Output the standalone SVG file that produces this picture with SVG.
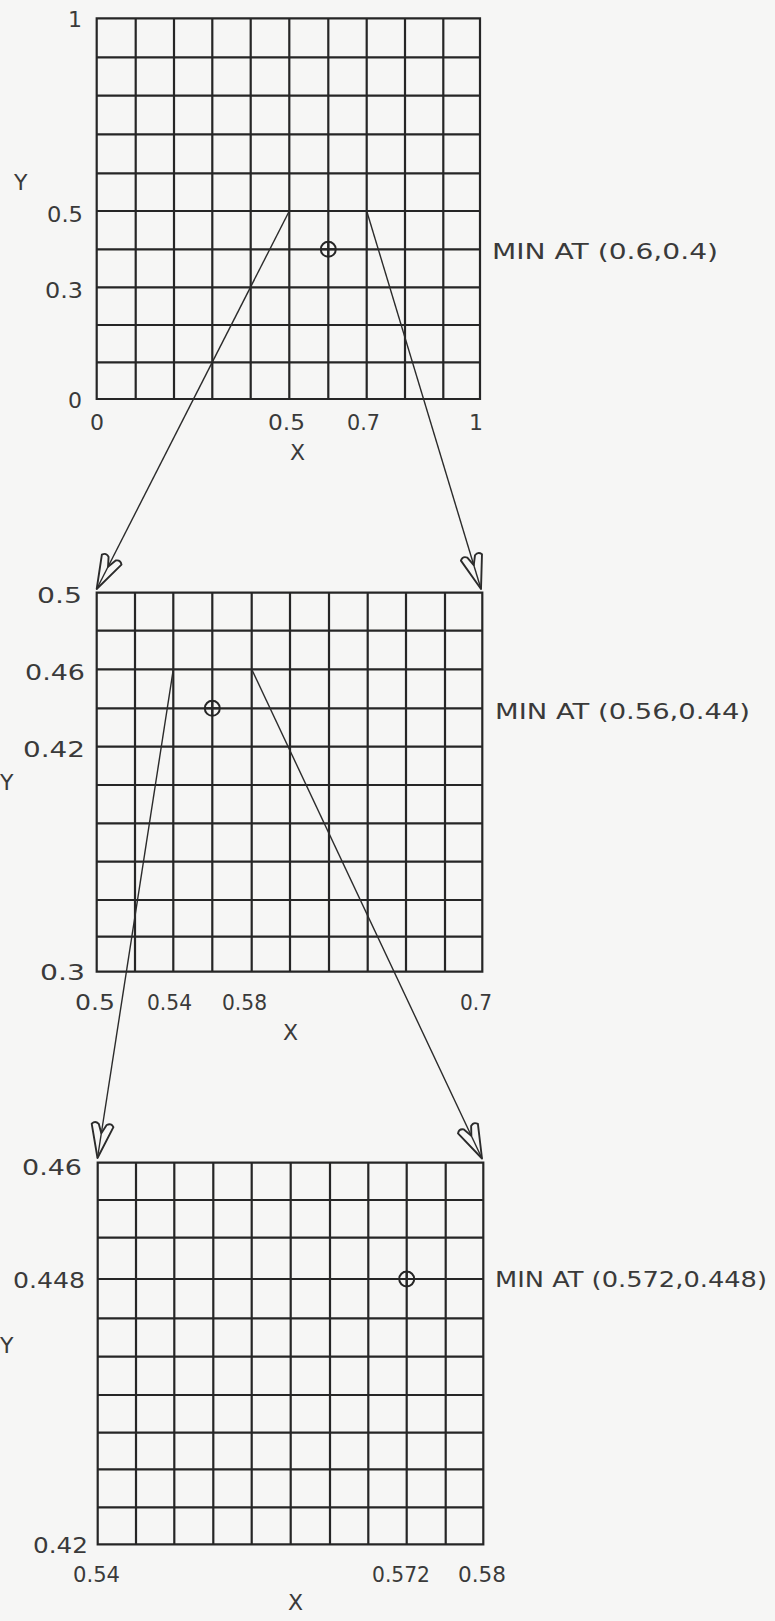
<svg xmlns="http://www.w3.org/2000/svg" width="775" height="1621" viewBox="0 0 775 1621">
<style>
.grid{fill:none;stroke:#262626;stroke-width:2.2;stroke-linecap:square}
.mark{fill:none;stroke:#262626;stroke-width:2}
.conn{fill:none;stroke:#2b2b2b;stroke-width:1.4}
text{font-family:"DejaVu Sans","Liberation Sans",sans-serif;font-size:22px;fill:#3a3a3a}
</style>
<defs>
<marker id="arr" markerUnits="userSpaceOnUse" markerWidth="44" markerHeight="32" viewBox="-40 -16 44 32" refX="0" refY="0" orient="auto" overflow="visible">
<path d="M0,0 L-33,-11 Q-37,-8 -34,-4 L-25,0 L-34,4 Q-37,8 -33,11 Z" fill="none" stroke="#2b2b2b" stroke-width="1.9" stroke-linejoin="round"/>
</marker>
</defs>
<rect width="775" height="1621" fill="#f6f6f5"/>

<g id="grid1">
<path class="grid" d="M96.7,18.3V399M135.7,18.3V399M174,18.3V399M212.3,18.3V399M250.7,18.3V399M289.3,18.3V399M328.3,18.3V399M366.7,18.3V399M405,18.3V399M443.3,18.3V399M480,18.3V399
M96.7,18.3H480M96.7,57.3H480M96.7,95.7H480M96.7,134.3H480M96.7,173.3H480M96.7,211H480M96.7,249.3H480M96.7,287.3H480M96.7,325H480M96.7,362.3H480M96.7,399H480"/>
<circle class="mark" cx="328.3" cy="249.3" r="7.5"/>
<path class="mark" d="M320.8,249.3H335.8M328.3,241.8V256.8"/>
<text x="82" y="27" text-anchor="end">1</text>
<text x="14" y="190">Y</text>
<text x="47" y="222" textLength="36" lengthAdjust="spacingAndGlyphs">0.5</text>
<text x="45" y="298" textLength="38" lengthAdjust="spacingAndGlyphs">0.3</text>
<text x="68" y="408">0</text>
<text x="90" y="430">0</text>
<text x="268" y="430" textLength="37" lengthAdjust="spacingAndGlyphs">0.5</text>
<text x="347" y="430" textLength="33" lengthAdjust="spacingAndGlyphs">0.7</text>
<text x="483" y="430" text-anchor="end">1</text>
<text x="290" y="460">X</text>
<text x="492" y="259" textLength="226" lengthAdjust="spacingAndGlyphs">MIN AT (0.6,0.4)</text>
</g>

<g id="grid2">
<path class="grid" d="M96.7,592.7V971.7M135,592.7V971.7M173.3,592.7V971.7M212.3,592.7V971.7M251.7,592.7V971.7M290,592.7V971.7M329,592.7V971.7M367.7,592.7V971.7M406,592.7V971.7M445,592.7V971.7M482.3,592.7V971.7
M96.7,592.7H482.3M96.7,630.7H482.3M96.7,669.3H482.3M96.7,708.3H482.3M96.7,746.7H482.3M96.7,785H482.3M96.7,823.3H482.3M96.7,861.7H482.3M96.7,900H482.3M96.7,936.7H482.3M96.7,971.7H482.3"/>
<circle class="mark" cx="212.3" cy="708.3" r="7.5"/>
<path class="mark" d="M204.8,708.3H219.8M212.3,700.8V715.8"/>
<text x="37" y="603" textLength="45" lengthAdjust="spacingAndGlyphs">0.5</text>
<text x="25" y="680" textLength="60" lengthAdjust="spacingAndGlyphs">0.46</text>
<text x="23" y="757" textLength="62" lengthAdjust="spacingAndGlyphs">0.42</text>
<text x="0" y="790">Y</text>
<text x="40" y="980" textLength="45" lengthAdjust="spacingAndGlyphs">0.3</text>
<text x="75" y="1010" textLength="40" lengthAdjust="spacingAndGlyphs">0.5</text>
<text x="147" y="1010" textLength="45" lengthAdjust="spacingAndGlyphs">0.54</text>
<text x="222" y="1010" textLength="45" lengthAdjust="spacingAndGlyphs">0.58</text>
<text x="460" y="1010" textLength="32" lengthAdjust="spacingAndGlyphs">0.7</text>
<text x="283" y="1040">X</text>
<text x="495" y="719" textLength="255" lengthAdjust="spacingAndGlyphs">MIN AT (0.56,0.44)</text>
</g>

<g id="grid3">
<path class="grid" d="M97.7,1162.7V1544.3M136,1162.7V1544.3M174.3,1162.7V1544.3M213.3,1162.7V1544.3M251.7,1162.7V1544.3M290.7,1162.7V1544.3M330,1162.7V1544.3M368.3,1162.7V1544.3M406.7,1162.7V1544.3M445.7,1162.7V1544.3M483.3,1162.7V1544.3
M97.7,1162.7H483.3M97.7,1200H483.3M97.7,1237.7H483.3M97.7,1279H483.3M97.7,1318.3H483.3M97.7,1356.7H483.3M97.7,1395H483.3M97.7,1432.7H483.3M97.7,1469.3H483.3M97.7,1507.3H483.3M97.7,1544.3H483.3"/>
<circle class="mark" cx="406.7" cy="1279" r="7.5"/>
<path class="mark" d="M399.2,1279H414.2M406.7,1271.5V1286.5"/>
<text x="22" y="1175" textLength="60" lengthAdjust="spacingAndGlyphs">0.46</text>
<text x="13" y="1288" textLength="72" lengthAdjust="spacingAndGlyphs">0.448</text>
<text x="0" y="1353">Y</text>
<text x="33" y="1553" textLength="55" lengthAdjust="spacingAndGlyphs">0.42</text>
<text x="73" y="1582" textLength="47" lengthAdjust="spacingAndGlyphs">0.54</text>
<text x="372" y="1582" textLength="58" lengthAdjust="spacingAndGlyphs">0.572</text>
<text x="458" y="1582" textLength="48" lengthAdjust="spacingAndGlyphs">0.58</text>
<text x="288" y="1610">X</text>
<text x="495" y="1287" textLength="272" lengthAdjust="spacingAndGlyphs">MIN AT (0.572,0.448)</text>
</g>

<g id="connectors">
<line class="conn" x1="289.3" y1="211" x2="96.7" y2="589" marker-end="url(#arr)"/>
<line class="conn" x1="366.7" y1="211" x2="481" y2="589" marker-end="url(#arr)"/>
<line class="conn" x1="173.3" y1="669.3" x2="97.5" y2="1158" marker-end="url(#arr)"/>
<line class="conn" x1="251.7" y1="669.3" x2="482" y2="1158.5" marker-end="url(#arr)"/>
</g>
</svg>
